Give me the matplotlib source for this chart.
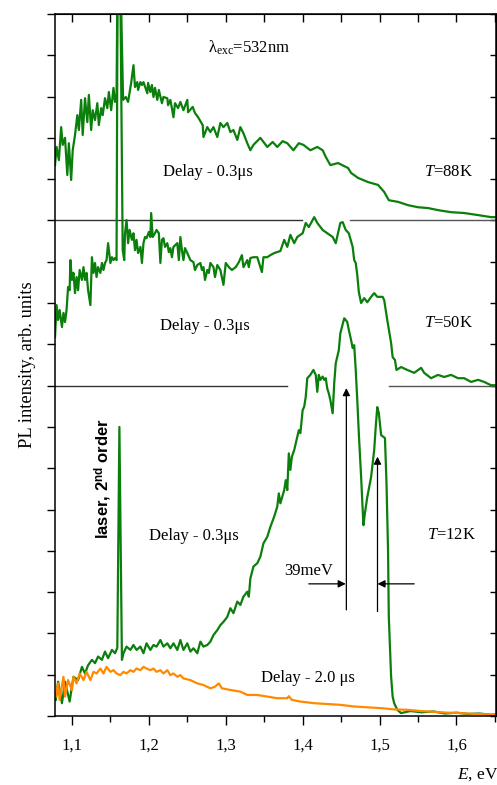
import numpy as np
import matplotlib
matplotlib.use("Agg")
import matplotlib.pyplot as plt
from matplotlib.ticker import MultipleLocator

# fonts: Times-like text, sans bold for the laser note
plt.rcParams['font.family'] = ['Liberation Serif', 'DejaVu Serif']
plt.rcParams['mathtext.fontset'] = 'custom'
plt.rcParams['mathtext.rm'] = 'Liberation Serif'
plt.rcParams['mathtext.it'] = 'Liberation Serif:italic'
plt.rcParams['mathtext.bf'] = 'Liberation Sans:bold'

# ---- data (E in eV, intensity in arb. units, offset) ----
# T=88K, delay 0.3us (baseline 12)
e88 = [1.078, 1.080, 1.083, 1.086, 1.088, 1.091, 1.094, 1.096, 1.099, 1.101,
       1.104, 1.107, 1.109, 1.112, 1.114, 1.117, 1.120, 1.122, 1.125, 1.127,
       1.130, 1.133, 1.135, 1.138, 1.140, 1.143, 1.146, 1.148, 1.151, 1.154,
       1.156, 1.158, 1.1595, 1.1625,
       1.1665, 1.170, 1.173, 1.177, 1.180, 1.182, 1.185, 1.186, 1.189, 1.191,
       1.193, 1.198, 1.199, 1.202, 1.204, 1.206, 1.208, 1.211, 1.213, 1.217,
       1.219, 1.224, 1.225, 1.228, 1.232, 1.234, 1.238, 1.241, 1.245, 1.250,
       1.251, 1.257, 1.260, 1.264, 1.270, 1.271, 1.276, 1.280, 1.284, 1.289,
       1.293, 1.297, 1.302, 1.306, 1.310, 1.315, 1.319, 1.323, 1.328, 1.332,
       1.336, 1.345, 1.354, 1.361, 1.367, 1.374, 1.380, 1.388, 1.395, 1.401,
       1.410, 1.419, 1.426, 1.430, 1.436, 1.446, 1.459, 1.463, 1.472, 1.485,
       1.498, 1.506, 1.512, 1.524, 1.537, 1.550, 1.563, 1.576, 1.593, 1.610,
       1.628, 1.645, 1.655]
i88 = [13.34, 13.78, 13.46, 14.26, 13.83, 14.00, 13.10, 13.87, 12.98, 13.70,
       14.07, 14.55, 14.19, 14.92, 14.07, 14.96, 14.38, 15.04, 14.19, 14.67,
       14.43, 14.84, 14.31, 14.72, 14.55, 14.96, 14.72, 15.11, 14.67, 15.21,
       14.87, 15.04, 18.5, 18.5,
       14.92, 14.99, 14.87, 15.33, 15.76, 15.23, 15.35, 15.16, 15.35, 15.28,
       15.35, 15.08, 15.33, 15.11, 15.28, 14.99, 15.21, 14.92, 15.16, 14.84,
       14.99, 14.96, 14.79, 14.92, 14.50, 14.84, 14.72, 14.87, 14.67, 14.92,
       14.62, 14.75, 14.60, 14.50, 14.31, 14.02, 14.26, 14.14, 14.26, 14.02,
       14.36, 14.26, 14.36, 14.14, 14.19, 13.95, 14.26, 14.11, 13.87, 13.70,
       13.83, 14.00, 13.78, 13.90, 13.78, 13.92, 13.87, 13.70, 13.87, 13.83,
       13.70, 13.78, 13.70, 13.54, 13.34, 13.39, 13.27, 13.15, 13.03, 12.93,
       12.86, 12.69, 12.49, 12.45, 12.37, 12.32, 12.30, 12.25, 12.20, 12.18,
       12.13, 12.08, 12.08]

# T=50K, delay 0.3us (baseline 8)
e50 = [1.078, 1.080, 1.082, 1.084, 1.087, 1.089, 1.091, 1.093, 1.095, 1.097,
       1.098, 1.100, 1.102, 1.104, 1.106, 1.108, 1.110, 1.113, 1.115, 1.117,
       1.119, 1.121, 1.124, 1.126, 1.128, 1.130, 1.132, 1.134, 1.137, 1.139,
       1.141, 1.143, 1.145, 1.147, 1.150, 1.152, 1.154, 1.156, 1.158,
       1.1595, 1.1625,
       1.166, 1.168, 1.169, 1.171, 1.173, 1.175, 1.178, 1.180, 1.182, 1.184,
       1.186, 1.189, 1.191, 1.193, 1.195, 1.197, 1.200, 1.202, 1.203, 1.205,
       1.208, 1.210, 1.213, 1.215, 1.217, 1.219, 1.221, 1.224, 1.226, 1.228,
       1.230, 1.232, 1.237, 1.239, 1.241, 1.243, 1.245, 1.247, 1.250, 1.254,
       1.258, 1.260, 1.263, 1.267, 1.269, 1.271, 1.273, 1.276, 1.278, 1.280,
       1.284, 1.286, 1.289, 1.293, 1.297, 1.300, 1.304, 1.308, 1.313, 1.317,
       1.321, 1.323, 1.328, 1.330, 1.332, 1.336, 1.341, 1.347, 1.349, 1.354,
       1.358, 1.363, 1.371, 1.376, 1.380, 1.384, 1.389, 1.393, 1.400, 1.404,
       1.408, 1.413, 1.415, 1.419, 1.426, 1.432, 1.439, 1.443, 1.446, 1.449,
       1.452, 1.456, 1.460, 1.465, 1.467, 1.469, 1.471, 1.473, 1.476, 1.480,
       1.484, 1.489, 1.493, 1.497, 1.504, 1.506, 1.510, 1.515, 1.517, 1.520,
       1.522, 1.528, 1.536, 1.545, 1.554, 1.558, 1.567, 1.576, 1.584, 1.593,
       1.602, 1.610, 1.619, 1.628, 1.636, 1.645, 1.655]
i50 = [9.18, 9.95, 9.59, 9.83, 9.42, 9.76, 9.54, 9.83, 10.39, 10.31,
       11.04, 10.56, 10.73, 10.24, 10.63, 10.31, 10.80, 10.56, 10.87, 10.56,
       10.73, 10.31, 9.95, 11.11, 10.73, 10.97, 10.63, 10.87, 10.73, 10.97,
       10.80, 10.97, 11.04, 11.45, 10.97, 11.11, 11.04, 11.09, 11.04,
       18.5, 18.5,
       11.28, 11.04, 11.69, 12.01, 11.45, 11.77, 11.53, 11.69, 11.28, 11.53,
       11.21, 11.36, 10.97, 11.45, 11.60, 11.57, 11.72, 11.60, 12.18, 11.60,
       11.69, 11.77, 11.69, 10.97, 11.53, 11.57, 11.36, 11.45, 11.23, 11.33,
       11.11, 11.36, 11.45, 11.04, 11.60, 11.28, 11.04, 11.33, 11.21, 11.04,
       10.99, 10.80, 10.92, 10.97, 10.80, 10.87, 10.56, 10.80, 10.73, 10.97,
       10.87, 10.63, 10.92, 10.80, 10.44, 10.97, 10.87, 10.80, 10.87, 10.99,
       11.16, 10.87, 11.04, 10.87, 11.09, 11.11, 11.11, 10.75, 11.11, 11.11,
       11.16, 11.21, 11.26, 11.53, 11.36, 11.65, 11.45, 11.60, 11.69, 11.94,
       11.84, 12.01, 12.08, 11.94, 11.77, 11.69, 11.60, 11.45, 11.69, 11.94,
       11.96, 11.77, 11.69, 11.36, 11.04, 10.97, 10.68, 10.27, 10.00, 10.12,
       10.02, 10.15, 10.24, 10.15, 10.15, 10.07, 9.59, 9.03, 8.69, 8.62,
       8.38, 8.45, 8.38, 8.31, 8.43, 8.31, 8.18, 8.26, 8.21, 8.26,
       8.18, 8.18, 8.09, 8.14, 8.09, 8.01, 8.01]

# T=12K, delay 0.3us (baseline 0)
e12 = [1.079, 1.082, 1.087, 1.091, 1.097, 1.102, 1.108, 1.113, 1.117, 1.121,
       1.126, 1.130, 1.134, 1.139, 1.143, 1.147, 1.152, 1.156, 1.159,
       1.1617,
       1.165, 1.167, 1.171, 1.176, 1.180, 1.184, 1.189, 1.193, 1.197, 1.202,
       1.206, 1.210, 1.215, 1.219, 1.224, 1.228, 1.232, 1.237, 1.241, 1.245,
       1.250, 1.254, 1.258, 1.263, 1.267, 1.271, 1.276, 1.280, 1.284, 1.289,
       1.293, 1.297, 1.302, 1.306, 1.310, 1.315, 1.319, 1.323, 1.328, 1.330,
       1.332, 1.336, 1.341, 1.345, 1.349, 1.354, 1.358, 1.363, 1.367, 1.369,
       1.371, 1.376, 1.378, 1.380, 1.382, 1.384, 1.386, 1.389, 1.393, 1.395,
       1.397, 1.400, 1.402, 1.404, 1.406, 1.410, 1.414, 1.417, 1.419, 1.421,
       1.423, 1.426, 1.428, 1.430, 1.432, 1.434, 1.436, 1.439, 1.441, 1.443,
       1.445, 1.447, 1.449, 1.454, 1.456, 1.458, 1.460, 1.463, 1.465, 1.467,
       1.469, 1.471, 1.473, 1.476, 1.478, 1.479, 1.481, 1.484, 1.489, 1.493,
       1.495, 1.497, 1.499, 1.502, 1.505, 1.507, 1.509, 1.511, 1.512, 1.515,
       1.517, 1.519, 1.523, 1.528, 1.540, 1.555, 1.570, 1.585, 1.600, 1.615,
       1.630, 1.645, 1.655]
i12 = [0.39, 0.83, 0.31, 0.83, 0.35, 0.95, 0.87, 1.19, 1.03, 1.23,
       1.36, 1.28, 1.44, 1.36, 1.56, 1.40, 1.60, 1.52, 1.65,
       7.00,
       1.36, 1.52, 1.68, 1.60, 1.72, 1.60, 1.68, 1.52, 1.76, 1.60,
       1.72, 1.68, 1.84, 1.68, 1.76, 1.64, 1.76, 1.60, 1.84, 1.60,
       1.76, 1.56, 1.64, 1.52, 1.80, 1.68, 1.72, 1.80, 1.96, 2.08,
       2.20, 2.28, 2.40, 2.61, 2.49, 2.77, 2.69, 2.89, 3.01, 2.89,
       3.33, 3.62, 3.70, 3.86, 4.18, 4.34, 4.58, 4.83, 5.07, 5.39,
       5.15, 5.47, 5.71, 5.47, 6.36, 5.96, 6.28, 6.44, 6.76, 6.92,
       6.85, 7.41, 7.49, 7.73, 8.18, 8.26, 8.38, 8.26, 7.85, 8.26,
       8.14, 8.22, 8.14, 8.18, 7.93, 7.81, 7.65, 7.33, 8.05, 8.54,
       8.70, 8.86, 9.27, 9.63, 9.59, 9.54, 9.35, 9.10, 8.91, 8.98,
       8.38, 7.65, 6.85, 5.79, 4.99, 4.62, 4.92, 5.30, 5.79, 6.44,
       7.00, 7.48, 7.34, 6.80, 6.76, 6.73, 5.64, 4.02, 2.40, 0.95,
       0.47, 0.31, 0.15, 0.07, 0.12, 0.09, 0.11, 0.06, 0.08, 0.05,
       0.06, 0.03, 0.04]

# T=12K, delay 2.0us (orange)
e_slow = [1.079, 1.082, 1.084, 1.089, 1.091, 1.095, 1.100, 1.102, 1.106, 1.110,
          1.115, 1.119, 1.124, 1.128, 1.132, 1.137, 1.141, 1.145, 1.150, 1.154,
          1.158, 1.163, 1.167, 1.171, 1.176, 1.180, 1.184, 1.189, 1.193, 1.197,
          1.202, 1.206, 1.210, 1.215, 1.219, 1.224, 1.228, 1.232, 1.237, 1.241,
          1.245, 1.254, 1.263, 1.271, 1.280, 1.286, 1.291, 1.295, 1.306, 1.319,
          1.328, 1.341, 1.354, 1.367, 1.380, 1.382, 1.386, 1.397, 1.415, 1.432,
          1.449, 1.467, 1.484, 1.502, 1.519, 1.536, 1.554, 1.571, 1.589, 1.606,
          1.623, 1.641, 1.655]
i_slow = [0.47, 0.79, 0.39, 0.95, 0.47, 0.87, 0.63, 0.95, 0.79, 1.03,
          0.87, 1.07, 0.87, 1.07, 1.03, 1.15, 1.03, 1.19, 1.07, 1.11,
          1.03, 0.99, 1.07, 1.03, 1.11, 1.07, 1.15, 1.11, 1.19, 1.15,
          1.11, 1.15, 1.07, 1.11, 1.03, 1.11, 0.99, 1.03, 0.95, 0.99,
          0.91, 0.87, 0.79, 0.75, 0.67, 0.71, 0.79, 0.67, 0.63, 0.59,
          0.51, 0.51, 0.47, 0.43, 0.43, 0.48, 0.39, 0.35, 0.31, 0.29,
          0.27, 0.23, 0.21, 0.19, 0.16, 0.15, 0.12, 0.10, 0.08, 0.07,
          0.05, 0.04, 0.04]

x_ticks = [1.1, 1.2, 1.3, 1.4, 1.5, 1.6]
x_tick_labels = ['1,1', '1,2', '1,3', '1,4', '1,5', '1,6']

green = '#0b7f0b'
orange = '#ff8a00'

fig = plt.figure(figsize=(4.97, 7.85), dpi=100)
ax = fig.add_axes([0.1107, 0.0879, 0.8867, 0.8943])

# baselines of the shifted spectra (with gaps)
ax.plot([1.078, 1.3995], [12, 12], color='#333333', lw=1.0)
ax.plot([1.4616, 1.655], [12, 12], color='#555555', lw=1.0)
ax.plot([1.078, 1.380], [8, 8], color='#333333', lw=1.0)
ax.plot([1.5124, 1.655], [8, 8], color='#555555', lw=1.0)

ax.plot(e88, i88, color=green, lw=1.6)
ax.plot(e50, i50, color=green, lw=1.6)
ax.plot(e12, i12, color=green, lw=1.6)
ax.plot(e_slow, i_slow, color=orange, lw=1.6)

# 39 meV splitting marks
arr = dict(arrowstyle='-|>', color='black', lw=0.9, mutation_scale=11,
           shrinkA=0, shrinkB=0)
ax.annotate('', xy=(1.4568, 7.94), xytext=(1.4568, 2.57), arrowprops=arr)
ax.annotate('', xy=(1.4973, 6.28), xytext=(1.4973, 2.53), arrowprops=arr)
ax.annotate('', xy=(1.4560, 3.20), xytext=(1.408, 3.20), arrowprops=arr)
ax.annotate('', xy=(1.4973, 3.20), xytext=(1.545, 3.20), arrowprops=arr)

fs = 12
ax.text(1.4075, 3.52, '39meV', fontsize=fs, ha='center', va='center')
ax.text(1.3308, 16.17, 'λ$_{\\mathrm{exc}}$=532nm', fontsize=fs, ha='center', va='center')
ax.text(1.2773, 13.17, 'Delay - 0.3μs', fontsize=fs, ha='center', va='center')
ax.text(1.2727, 9.45, 'Delay - 0.3μs', fontsize=fs, ha='center', va='center')
ax.text(1.2582, 4.36, 'Delay - 0.3μs', fontsize=fs, ha='center', va='center')
ax.text(1.4071, 0.91, 'Delay - 2.0 μs', fontsize=fs, ha='center', va='center')
ax.text(1.5896, 13.17, '$T$=88K', fontsize=fs, ha='center', va='center')
ax.text(1.5896, 9.52, '$T$=50K', fontsize=fs, ha='center', va='center')
ax.text(1.5941, 4.38, '$T$=12K', fontsize=fs, ha='center', va='center')
ax.text(1.1415, 5.74, 'laser, 2$^{\\mathbf{nd}}$ order', fontsize=12,
        family='Liberation Sans', weight='bold', rotation=90,
        ha='center', va='center')

ax.set_xlim(1.078, 1.651)
ax.set_ylim(0, 17)

ax.set_xticks(x_ticks, labels=x_tick_labels)
ax.xaxis.set_minor_locator(MultipleLocator(0.05))
ax.set_yticks(range(0, 18))
ax.tick_params(axis='x', which='major', direction='out', length=6.5, width=1,
               labelsize=12, pad=9)
ax.tick_params(axis='x', which='minor', direction='out', length=4, width=1)
ax.tick_params(axis='y', which='major', direction='out', length=6, width=1,
               labelleft=False)
for s in ax.spines.values():
    s.set_linewidth(1.1)

top = ax.secondary_xaxis('top')
top.set_xticks(x_ticks)
top.xaxis.set_minor_locator(MultipleLocator(0.05))
top.tick_params(which='both', direction='in', length=6, width=1, labeltop=False)

right = ax.secondary_yaxis('right')
right.set_yticks(range(0, 18))
right.tick_params(which='both', direction='in', length=4.5, width=1,
                  labelright=False)

ax.set_ylabel('PL intensity, arb. units', fontsize=13.3, labelpad=8)
ax.set_xlabel('$E$, eV', fontsize=12.5, loc='right')
ax.xaxis.set_label_coords(1.006, -0.071)

fig.savefig('out.png', dpi=100)
